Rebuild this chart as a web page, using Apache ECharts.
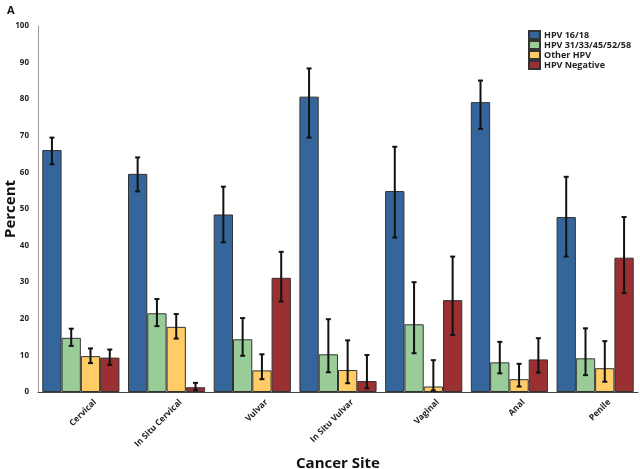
<!DOCTYPE html>
<html>
<head>
<meta charset="utf-8">
<script src="https://cdn.jsdelivr.net/npm/echarts@6/dist/echarts.min.js"></script>
<style>
  html, body { margin: 0; padding: 0; background: #fff; }
  #main { width: 640px; height: 469px; }
</style>
</head>
<body>
<div id="main"></div>
<script>
// categories and values (percent)
var categories = ['Cervical', 'In Situ Cervical', 'Vulvar', 'In Situ Vulvar', 'Vaginal', 'Anal', 'Penile'];
var seriesNames = ['HPV 16/18', 'HPV 31/33/45/52/58', 'Other HPV', 'HPV Negative'];

var hpv1618 = [66.1, 59.6, 48.5, 80.7, 54.9, 79.2, 47.8];
var hpv1618Low = [62.2, 54.8, 40.9, 69.5, 42.2, 71.9, 37.0];
var hpv1618High = [69.5, 64.1, 56.1, 88.4, 67.0, 85.1, 58.8];

var hpvHighRisk = [14.8, 21.5, 14.4, 10.3, 18.5, 8.1, 9.2];
var hpvHighRiskLow = [12.6, 18.0, 9.9, 5.4, 10.6, 5.1, 4.6];
var hpvHighRiskHigh = [17.3, 25.4, 20.2, 19.9, 30.0, 13.7, 17.4];

var otherHpv = [9.8, 17.8, 5.9, 6.0, 1.5, 3.5, 6.5];
var otherHpvLow = [7.9, 14.6, 3.5, 2.4, 0.4, 1.5, 2.8];
var otherHpvHigh = [11.9, 21.3, 10.3, 14.1, 8.7, 7.7, 13.9];

var hpvNeg = [9.4, 1.3, 31.2, 3.0, 25.1, 8.9, 36.7];
var hpvNegLow = [7.4, 0.5, 24.7, 1.0, 15.6, 5.3, 27.0];
var hpvNegHigh = [11.6, 2.5, 38.3, 10.1, 37.0, 14.7, 47.8];

var colors = ['#34669b', '#99cc99', '#ffcc66', '#9b3033'];
var FONT = 'Open Sans';

var values = [hpv1618, hpvHighRisk, otherHpv, hpvNeg];
var lows = [hpv1618Low, hpvHighRiskLow, otherHpvLow, hpvNegLow];
var highs = [hpv1618High, hpvHighRiskHigh, otherHpvHigh, hpvNegHigh];

var GAP = 0.1;   // barCategoryGap

// error bar for series idx
function errorItem(idx) {
  return function (params, api) {
    var band = api.size([1, 0])[0];
    var barW = band * (1 - GAP) / 4;
    var off = -band * (1 - GAP) / 2 + barW * (idx + 0.5);
    var lo = api.coord([api.value(0), api.value(1)]);
    var hi = api.coord([api.value(0), api.value(2)]);
    var x = lo[0] + off;
    var cap = 2.5;
    var st = { stroke: '#111', lineWidth: 2 };
    return {
      type: 'group',
      children: [
        { type: 'line', shape: { x1: x, y1: hi[1], x2: x, y2: lo[1] }, style: st },
        { type: 'line', shape: { x1: x - cap, y1: hi[1], x2: x + cap, y2: hi[1] }, style: st },
        { type: 'line', shape: { x1: x - cap, y1: lo[1], x2: x + cap, y2: lo[1] }, style: st }
      ]
    };
  };
}

var series = [];
for (var i = 0; i < 4; i++) {
  series.push({
    name: seriesNames[i],
    type: 'bar',
    barGap: 0,
    barCategoryGap: '10%',
    data: values[i],
    itemStyle: { color: colors[i], borderColor: '#333', borderWidth: 1 }
  });
}
for (var j = 0; j < 4; j++) {
  series.push({
    name: seriesNames[j] + ' err',
    type: 'custom',
    renderItem: errorItem(j),
    z: 5,
    data: categories.map(function (c, k) { return [k, lows[j][k], highs[j][k]]; })
  });
}

var chart = echarts.init(document.getElementById('main'));
chart.setOption({
  animation: false,
  title: {
    text: 'A', left: 2, top: 0,
    textStyle: { fontFamily: FONT, fontSize: 11, fontWeight: 'bold', color: '#111' }
  },
  legend: {
    data: seriesNames,
    orient: 'vertical',
    left: 528, top: 30,
    padding: 0,
    itemWidth: 11, itemHeight: 8, itemGap: 0,
    icon: 'rect',
    textStyle: { fontFamily: FONT, fontSize: 9, lineHeight: 10, fontWeight: 'bold', color: '#222', padding: [0, 0, 0, -1] }
  },
  grid: { left: 38, right: 2, top: 26, bottom: 77, outerBoundsMode: 'none', containLabel: false },
  xAxis: {
    type: 'category',
    data: categories,
    name: 'Cancer Site',
    nameLocation: 'middle',
    nameGap: 64,
    nameMoveOverlap: false,
    nameTextStyle: { fontFamily: FONT, fontSize: 15, fontWeight: 'bold', color: '#111' },
    axisTick: { show: false },
    axisLine: { lineStyle: { color: '#444', width: 1 } },
    axisLabel: {
      rotate: 45, interval: 0, margin: 23,
      padding: [0, -20, 0, 0],
      fontFamily: FONT, fontSize: 8.5, fontWeight: 'bold', color: '#222'
    }
  },
  yAxis: {
    type: 'value',
    min: 0, max: 100, interval: 10,
    name: 'Percent',
    nameLocation: 'middle',
    nameGap: 20,
    nameMoveOverlap: false,
    nameTextStyle: { fontFamily: FONT, fontSize: 15, fontWeight: 'bold', color: '#111' },
    axisLine: { show: true, lineStyle: { color: '#999', width: 1 } },
    axisTick: { show: false },
    splitLine: { show: false },
    axisLabel: { margin: 9, fontFamily: FONT, fontSize: 8, fontWeight: 'bold', color: '#222' }
  },
  series: series
});
</script>
</body>
</html>
